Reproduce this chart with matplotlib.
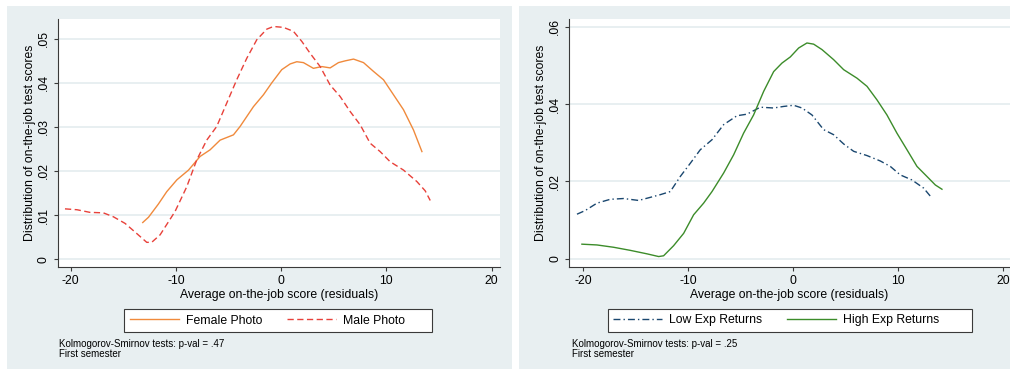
import matplotlib
matplotlib.use("Agg")
import matplotlib.pyplot as plt
from matplotlib.patches import Rectangle
from matplotlib.ticker import FuncFormatter

plt.rcParams['font.family'] = ['Liberation Sans', 'DejaVu Sans']

# kernel densities, left panel: by photo gender
female_x = [-13.15, -12.6, -11.66, -10.87, -9.9, -8.8, -7.7, -6.75, -5.8, -4.53, -3.9,
            -2.63, -1.68, -0.89, 0.06, 0.86, 1.49, 2.12, 3.07, 3.87, 4.66, 5.45, 6.09,
            6.88, 7.83, 8.78, 9.73, 10.68, 11.63, 12.58, 13.38]
female_y = [.0083, .0095, .0125, .0153, .018, .0202, .0233, .0248, .027, .0282, .0301,
            .0346, .0373, .040, .043, .0443, .0448, .0446, .0433, .0437, .0434, .0446, .045,
            .0454, .0446, .0426, .0407, .0373, .0339, .0293, .0244]

male_x = [-20.54, -19.4, -18.16, -16.9, -15.94, -14.83, -13.72, -12.77, -12.3, -11.5,
          -10.08, -8.97, -8.02, -7.07, -6.12, -5.17, -4.22, -3.26, -2.31, -1.36, -0.73,
          0.22, 1.17, 1.97, 2.76, 3.71, 4.66, 5.61, 6.56, 7.51, 8.46, 9.41, 10.36, 11.63,
          12.9, 13.69, 14.17]
male_y = [.0114, .0112, .0106, .0105, .0096, .0081, .0058, .0038, .0038, .0055,
          .0108, .0164, .0225, .027, .0301, .0354, .0407, .0456, .0498, .0522, .0528,
          .0526, .0517, .0494, .0467, .0437, .0395, .0369, .0335, .0305, .0263, .0244,
          .0221, .0202, .0176, .0155, .0133]

# right panel: by expected returns
low_x = [-20.57, -19.78, -18.67, -17.4, -16.13, -14.7, -13.59, -12.63, -11.68, -10.73,
         -9.78, -8.83, -7.71, -6.6, -5.33, -4.38, -3.11, -1.84, -0.89, 0.06, 0.86, 1.81,
         2.92, 3.87, 4.83, 5.78, 7.05, 8.32, 9.27, 10.22, 11.33, 12.44, 13.24]
low_y = [.01155, .0125, .0144, .0154, .0156, .0151, .0159, .0166, .0174, .0213,
         .0247, .0282, .0308, .0347, .037, .0374, .0392, .039, .0394, .0397, .039, .0372,
         .0334, .0321, .0297, .0278, .0267, .0253, .0239, .0217, .0204, .0183, .0157]

high_x = [-20.1, -18.67, -17.08, -15.49, -13.9, -12.79, -12.32, -11.37, -10.41, -9.46,
          -8.51, -7.71, -6.6, -5.65, -4.7, -3.75, -2.79, -1.84, -1.05, -0.25, 0.54, 1.33,
          1.97, 2.76, 3.87, 4.83, 6.1, 7.05, 8.0, 8.95, 9.9, 10.86, 11.81, 12.76, 13.56,
          14.19]
high_y = [.0038, .0036, .003, .0022, .0013, .0006, .0008, .0034, .0066, .0114,
          .0144, .0174, .0222, .0269, .0325, .0372, .0433, .0484, .0506, .0522, .0545, .0558,
          .0555, .0541, .0515, .0489, .0467, .0446, .0411, .0372, .0325, .0282, .0239, .0213,
          .0191, .018]

x_ticks = [-20, -10, 0, 10, 20]
left_yticks = [0, .01, .02, .03, .04, .05]
right_yticks = [0, .02, .04, .06]

BG = '#e8eff1'
AXC = '#3a3a3a'
W, H = 1010, 370

fig = plt.figure(figsize=(W / 100, H / 100), dpi=100, facecolor='white')

# the two graph regions
fig.patches.append(Rectangle((7 / W, 1 - 369 / H), (512 - 7) / W, (369 - 6) / H,
                             transform=fig.transFigure, facecolor=BG, edgecolor='none', zorder=-10))
fig.patches.append(Rectangle((519 / W, 1 - 369 / H), (1010 - 519) / W, (369 - 6) / H,
                             transform=fig.transFigure, facecolor=BG, edgecolor='none', zorder=-10))


def stata_fmt(v, pos):
    if abs(v) < 1e-12:
        return '0'
    return ('%.2f' % v).lstrip('0')


def setup(ax, xlim, ylim, yticks):
    ax.set_facecolor('white')
    ax.set_xlim(*xlim)
    ax.set_ylim(*ylim)
    for s in ('top', 'right'):
        ax.spines[s].set_visible(False)
    for s in ('left', 'bottom'):
        ax.spines[s].set_color(AXC)
        ax.spines[s].set_linewidth(0.8)
    ax.set_xticks(x_ticks)
    ax.set_xticklabels([str(t) for t in x_ticks])
    ax.set_yticks(yticks)
    ax.yaxis.set_major_formatter(FuncFormatter(stata_fmt))
    for t in yticks:
        ax.axhline(t, color='#e2ebee', lw=1.1, zorder=0)
    ax.tick_params(axis='both', colors=AXC, labelcolor='black', labelsize=8.8,
                   length=3, width=0.8, pad=2.5)
    plt.setp(ax.get_yticklabels(), rotation=90, va='center')
    ax.set_xlabel('Average on-the-job score (residuals)', fontsize=8.8, labelpad=2)
    ax.set_ylabel('Distribution of on-the-job test scores', fontsize=8.8, labelpad=1.5)


def legend_box(ax, handles, labels, x0, x1, lx):
    # box drawn under the axes so the legend entries sit on top of it
    fig.patches.append(Rectangle((x0 / W, 1 - 332 / H), (x1 - x0) / W, 23 / H,
                                 transform=fig.transFigure, facecolor='white',
                                 edgecolor=AXC, lw=0.8, zorder=-5))
    ax.legend(handles, labels, loc='center left', bbox_to_anchor=(lx / W, 1 - 320.5 / H),
              bbox_transform=fig.transFigure, ncol=2, frameon=False, fontsize=8.8,
              handlelength=4.0, handletextpad=0.6, columnspacing=2.0, borderpad=0,
              borderaxespad=0)


# left panel
ax1 = fig.add_axes([57.5 / W, 1 - 267 / H, (500 - 57.5) / W, (267 - 19) / H])
setup(ax1, (-21.25, 20.8), (-0.0018, 0.0545), left_yticks)
l1, = ax1.plot(female_x, female_y, color='#f08a3c', lw=1.0)
l2, = ax1.plot(male_x, male_y, color='#e8413a', lw=1.0, dashes=(4.5, 2.5))
legend_box(ax1, [l1, l2], ['Female Photo', 'Male Photo'], 124, 432, 130)
fig.text(59 / W, 1 - 349 / H, 'Kolmogorov-Smirnov tests: p-val = .47\nFirst semester',
         fontsize=7.05, va='center', ha='left', linespacing=1.1)

# right panel
ax2 = fig.add_axes([569 / W, 1 - 267 / H, (1010 - 569) / W, (267 - 19) / H])
setup(ax2, (-21.33, 20.67), (-0.0021, 0.062), right_yticks)
r1, = ax2.plot(low_x, low_y, color='#1a476f', lw=1.0, dashes=(5, 2.2, 1, 2.2))
r2, = ax2.plot(high_x, high_y, color='#3c8c2a', lw=1.0)
legend_box(ax2, [r1, r2], ['Low Exp Returns', 'High Exp Returns'], 608, 972, 613)
fig.text(572 / W, 1 - 349 / H, 'Kolmogorov-Smirnov tests: p-val = .25\nFirst semester',
         fontsize=7.05, va='center', ha='left', linespacing=1.1)

fig.savefig('out.png', dpi=100, facecolor='white')
